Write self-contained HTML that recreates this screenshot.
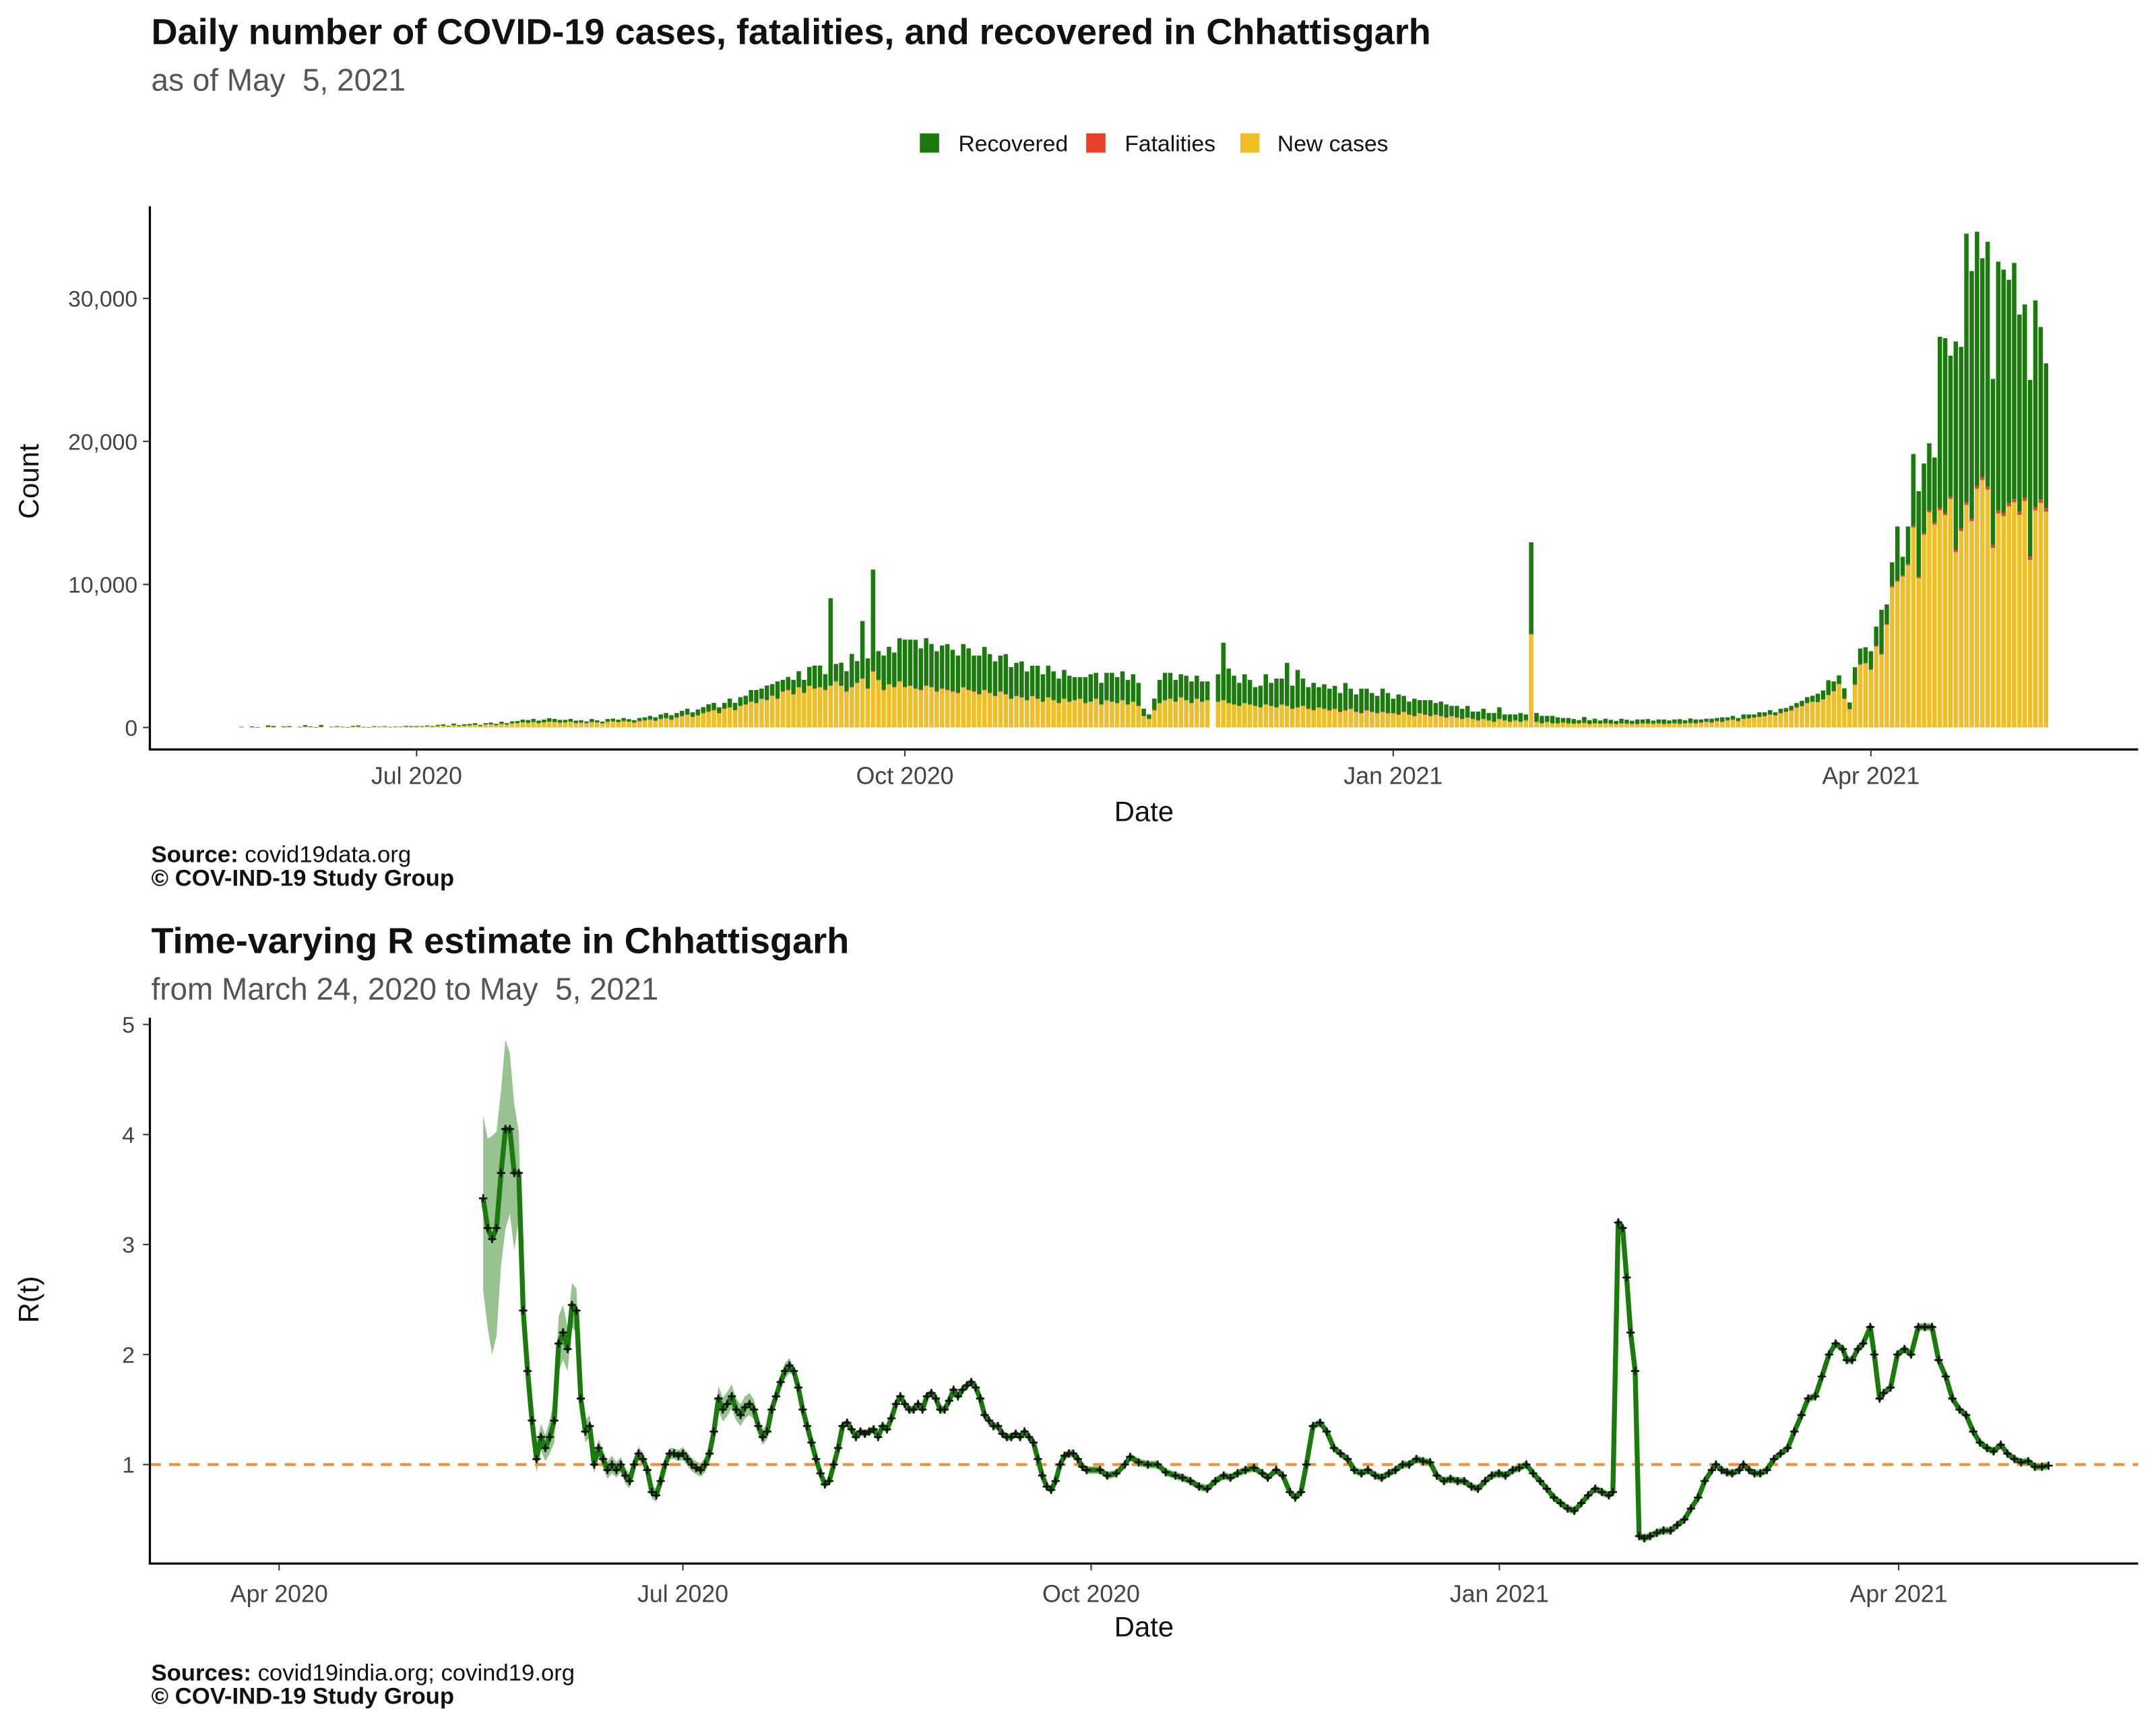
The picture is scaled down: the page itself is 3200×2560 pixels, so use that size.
<!DOCTYPE html>
<html><head><meta charset="utf-8"><style>
html,body{margin:0;padding:0;background:#fff}
svg{display:block;font-family:"Liberation Sans",sans-serif}
</style></head><body>
<svg id="chart" width="3200" height="2560" viewBox="0 0 1568 1254.4" preserveAspectRatio="none" xmlns="http://www.w3.org/2000/svg">
<rect x="0" y="0" width="1568" height="1254.4" fill="#fff"/>
<text x="110" y="32" font-size="26.5" font-weight="bold" fill="#111">Daily number of COVID-19 cases, fatalities, and recovered in Chhattisgarh</text>
<text xml:space="preserve" x="110" y="66" font-size="22.5" fill="#555">as of May  5, 2021</text>
<g font-size="16.5" fill="#111">
<rect x="669" y="97" width="14" height="14" fill="#1A7A0C"/>
<text x="697" y="110">Recovered</text>
<rect x="790" y="97" width="14" height="14" fill="#E8412B"/>
<text x="818" y="110">Fatalities</text>
<rect x="902" y="97" width="14" height="14" fill="#F2BE26"/>
<text x="929" y="110">New cases</text>
</g>
<g id="bars"></g>
<g id="topaxes"></g>
<text transform="translate(28,350) rotate(-90)" text-anchor="middle" font-size="20.5" fill="#111">Count</text>
<text x="832" y="597" text-anchor="middle" font-size="20.5" fill="#111">Date</text>
<text x="110" y="627" font-size="17" fill="#111"><tspan font-weight="bold">Source:</tspan> covid19data.org</text>
<text x="110" y="644" font-size="17" font-weight="bold" fill="#111">© COV-IND-19 Study Group</text>

<text x="110" y="693" font-size="26.5" font-weight="bold" fill="#111">Time-varying R estimate in Chhattisgarh</text>
<text xml:space="preserve" x="110" y="727" font-size="22.5" fill="#555">from March 24, 2020 to May  5, 2021</text>
<g id="rchart"></g>
<text transform="translate(28,945) rotate(-90)" text-anchor="middle" font-size="20.5" fill="#111">R(t)</text>
<text x="832" y="1190" text-anchor="middle" font-size="20.5" fill="#111">Date</text>
<text x="110" y="1222" font-size="17" fill="#111"><tspan font-weight="bold">Sources:</tspan> covid19india.org; covind19.org</text>
<text x="110" y="1239" font-size="17" font-weight="bold" fill="#111">© COV-IND-19 Study Group</text>
</svg>
<script>
// ---- Top chart data (thousands), daily from 2020-05-29 to 2021-05-04 ----
const barStartDay = -33; // days relative to 2020-07-01
const newCases = [
0.03,0,0.02,0.01,0,0.05,0.02,0,0.03,0.04,0,0.02,0.06,0.03,0.01,0.05,0,0.02,0.04,0.03,0.02,0.05,0.06,0.02,0.01,0.04,0.03,0.05,0.02,0.04,0.03,0.05,0.04,
0.05,0.06,0.08,0.05,0.1,0.12,0.08,0.15,0.1,0.12,0.14,0.18,0.1,0.2,0.22,0.15,0.25,0.2,0.28,0.3,0.35,0.32,0.38,0.3,0.35,0.4,0.38,0.33,0.35,0.4,0.3,
0.35,0.3,0.38,0.35,0.3,0.4,0.42,0.38,0.45,0.4,0.35,0.45,0.5,0.55,0.48,0.6,0.65,0.55,0.7,0.8,0.9,0.75,0.85,1.0,1.1,1.2,1.0,1.3,1.4,1.2,1.5,
1.6,1.8,1.7,2.0,1.9,2.2,2.0,2.5,2.6,2.3,2.8,2.4,2.9,2.7,2.8,2.6,2.9,3.2,2.9,2.5,2.8,3.1,3.4,2.7,3.9,3.3,2.6,3.0,2.8,3.2,
2.8,2.9,2.7,2.6,2.9,2.8,2.5,2.7,2.6,2.5,2.4,2.8,2.6,2.5,2.3,2.6,2.4,2.2,2.5,2.3,2.0,2.2,2.1,1.9,2.2,2.0,1.8,2.1,1.9,1.7,2.0,
1.8,1.9,2.0,1.7,1.8,2.0,1.6,1.9,1.8,1.7,1.9,1.6,1.8,1.5,0.8,0.6,1.2,1.7,1.9,2.0,1.8,2.1,1.9,1.7,2.0,1.8,1.9,0,1.8,1.9,
1.7,1.6,1.5,1.7,1.6,1.5,1.4,1.6,1.5,1.4,1.6,1.5,1.3,1.4,1.5,1.3,1.2,1.4,1.3,1.2,1.3,1.1,1.2,1.3,1.1,1.0,1.2,1.1,1.0,1.1,1.0,
1.0,0.9,1.1,0.9,0.8,1.0,0.9,0.8,0.9,0.8,0.7,0.8,0.7,0.6,0.7,0.6,0.5,0.6,0.5,0.4,0.6,0.5,0.4,0.5,0.4,0.5,6.5,0.4,0.3,0.4,0.3,
0.3,0.35,0.3,0.28,0.3,0.32,0.25,0.3,0.28,0.3,0.27,0.25,0.3,0.28,0.26,0.25,0.3,0.28,0.27,0.3,0.25,0.28,0.3,0.27,0.3,0.32,0.3,0.35,
0.4,0.35,0.45,0.4,0.5,0.55,0.45,0.6,0.65,0.7,0.75,0.8,0.9,0.85,1.0,1.1,1.2,1.4,1.5,1.7,1.8,1.77,1.96,2.26,2.52,3.02,2.0,1.27,2.97,4.38,4.48,
4.03,5.66,5.09,7.17,9.8,10.2,10.56,11.34,13.98,10.44,13.48,15.04,14.19,15.2,14.85,15.98,12.26,13.74,15.56,14.43,16.69,17.3,16.64,12.56,14.97,14.78,15.46,15.75,14.87,15.84,
11.72,15.18,15.7,15.09];
const fatalities = [
0,0,0,0,0,0,0,0,0,0,0,0,0,0,0,0,0,0,0,0,0,0,0,0,0,0,0,0,0,0,0,0,0,
0,0,0,0,0,0,0,0,0,0,0,0,0,0,0,0,0,0,0,0,0,0,0,0,0,0,0,0,0,0,0,
0.01,0,0.01,0,0.01,0.01,0,0.01,0.01,0,0.01,0.01,0.01,0.01,0.01,0.01,0.01,0.01,0.01,0.01,0.01,0.01,0.01,0.02,0.02,0.02,0.01,0.02,0.02,0.02,0.02,
0.02,0.02,0.02,0.02,0.03,0.03,0.02,0.03,0.03,0.03,0.03,0.03,0.03,0.03,0.03,0.03,0.04,0.04,0.03,0.03,0.04,0.04,0.04,0.03,0.04,0.04,0.03,0.04,0.04,0.04,
0.04,0.04,0.03,0.03,0.04,0.04,0.03,0.03,0.03,0.03,0.03,0.03,0.03,0.03,0.03,0.03,0.03,0.02,0.03,0.03,0.02,0.02,0.02,0.02,0.02,0.02,0.02,0.02,0.02,0.02,0.02,
0.02,0.02,0.02,0.02,0.02,0.02,0.02,0.02,0.02,0.02,0.02,0.02,0.02,0.02,0.01,0.01,0.02,0.02,0.02,0.02,0.02,0.02,0.02,0.02,0.02,0.02,0.02,0,0.02,0.02,
0.02,0.02,0.02,0.02,0.02,0.02,0.02,0.02,0.02,0.02,0.02,0.02,0.02,0.02,0.02,0.02,0.02,0.02,0.02,0.01,0.01,0.01,0.01,0.01,0.01,0.01,0.01,0.01,0.01,0.01,0.01,
0.01,0.01,0.01,0.01,0.01,0.01,0.01,0.01,0.01,0.01,0.01,0.01,0.01,0.01,0.01,0.01,0.01,0.01,0.01,0.01,0.01,0.01,0.01,0.01,0.01,0.01,0.05,0.01,0.01,0.01,0.01,
0.01,0.01,0.01,0.01,0.01,0.01,0.01,0.01,0.01,0.01,0.01,0.01,0.01,0.01,0.01,0.01,0.01,0.01,0.01,0.01,0.01,0.01,0.01,0.01,0.01,0.01,0.01,0.01,
0.01,0.01,0.01,0.01,0.01,0.01,0.01,0.01,0.01,0.01,0.01,0.01,0.01,0.01,0.01,0.01,0.01,0.01,0.01,0.02,0.02,0.02,0.02,0.02,0.03,0.03,0.03,0.03,0.04,0.04,0.05,
0.05,0.06,0.06,0.07,0.08,0.08,0.09,0.1,0.1,0.1,0.12,0.12,0.13,0.14,0.14,0.15,0.16,0.17,0.17,0.18,0.19,0.2,0.2,0.2,0.2,0.2,0.22,0.22,0.22,0.23,
0.22,0.23,0.24,0.24];
const recovered = [
0.02,0,0.05,0.01,0,0.1,0.08,0,0.05,0.06,0,0.03,0.1,0.04,0.01,0.12,0,0.03,0.05,0.02,0.01,0.06,0.08,0.02,0.01,0.05,0.03,0.04,0.02,0.03,0.02,0.06,0.05,
0.05,0.04,0.06,0.05,0.08,0.1,0.05,0.12,0.06,0.1,0.1,0.12,0.08,0.1,0.12,0.1,0.15,0.1,0.15,0.15,0.2,0.2,0.22,0.18,0.2,0.25,0.22,0.2,0.18,0.2,0.18,
0.15,0.12,0.2,0.15,0.1,0.18,0.2,0.15,0.2,0.18,0.15,0.2,0.2,0.25,0.22,0.3,0.35,0.3,0.3,0.35,0.4,0.3,0.4,0.4,0.5,0.5,0.4,0.4,0.6,0.5,0.6,
0.6,0.8,0.9,0.7,1.0,0.8,1.2,0.8,0.9,1.0,1.1,0.9,1.3,1.6,1.5,1.1,6.1,1.2,1.6,1.4,2.3,1.5,4.0,2.1,7.1,2.0,2.4,2.6,2.4,3.0,
3.3,3.2,3.4,2.9,3.3,3.0,2.8,3.0,3.2,2.9,2.6,3.0,2.9,2.5,2.7,3.0,2.7,2.4,2.5,2.8,2.2,2.3,2.5,2.0,2.1,2.3,1.9,2.2,2.0,1.7,2.0,
1.8,1.6,1.5,1.8,1.9,1.8,1.5,1.9,2.0,1.8,2.0,1.7,1.9,1.6,0.5,0.3,0.8,1.6,1.9,1.8,1.5,1.6,1.7,1.5,1.6,1.4,1.3,0,1.9,4.0,
2.4,2.0,1.6,2.0,1.7,1.3,1.5,2.1,1.6,2.0,1.8,3.0,1.6,2.6,1.9,1.5,1.9,1.4,1.7,1.5,1.6,1.3,1.9,1.4,1.2,1.7,1.5,1.3,1.2,1.6,1.4,
1.0,1.4,1.1,0.9,1.2,0.9,1.0,1.1,0.8,1.0,0.9,0.7,0.8,0.7,0.8,0.5,0.6,0.7,0.5,0.6,0.8,0.4,0.5,0.4,0.6,0.4,6.4,0.6,0.5,0.4,0.5,
0.4,0.3,0.35,0.3,0.2,0.4,0.25,0.3,0.2,0.3,0.25,0.2,0.3,0.25,0.2,0.3,0.25,0.3,0.2,0.25,0.3,0.2,0.25,0.3,0.2,0.3,0.25,0.2,
0.2,0.25,0.2,0.3,0.2,0.25,0.2,0.3,0.25,0.2,0.3,0.25,0.3,0.2,0.3,0.25,0.3,0.3,0.35,0.4,0.4,0.57,0.61,1.02,0.67,0.59,0.71,0.45,1.2,1.1,1.08,
1.25,1.33,3.08,1.36,1.67,3.77,1.28,2.61,5.04,5.98,4.86,4.71,4.56,11.98,12.23,9.87,14.57,12.7,18.8,17.3,17.79,15.31,17.12,11.61,17.4,17.03,15.62,16.51,13.78,13.51,
12.36,14.45,12.06,10.13];
const countTicks = [0, 10000, 20000, 30000];
const countTickLabels = ["0", "10,000", "20,000", "30,000"];
const topDateTicks = [0, 92, 184, 274]; // days from 2020-07-01
const topDateLabels = ["Jul 2020", "Oct 2020", "Jan 2021", "Apr 2021"];

// ---- Bottom chart data ----
const rDailyStartDay = 46; // 2020-05-17, days from 2020-04-01
const rDailyVals = [
3.42,3.15,3.05,3.15,3.65,4.05,4.05,3.65,3.65,2.4,1.85,1.4,1.05,1.25,1.15,
1.25,1.4,2.1,2.2,2.05,2.45,2.4,1.6,1.3,1.35,1.0,1.15,1.05,0.95,1.0,0.95,1.0,0.9,0.85,1.0,1.1,1.05,0.95,0.75,0.72,0.85,1.0,1.1,1.1,1.08,
1.1,1.05,1.0,0.97,0.95,1.0,1.1,1.3,1.6,1.5,1.55,1.62,1.5,1.45,1.52,1.55,1.5,1.35,1.25,1.3,1.5,1.62,1.75,1.85,1.9,1.85,1.7,1.5,1.35,1.2,1.05,
0.92,0.82,0.85,1.0,1.15,1.35,1.38,1.32,1.25,1.3,1.28,1.3,1.32,1.25,1.35,1.32,1.42,1.55,1.62,1.55,1.5,1.5,1.55,1.5,1.62,1.65,1.6,1.5,1.5,1.58,1.68,
1.62,1.68,1.72,1.75,1.7,1.6,1.45,1.4,1.35,1.35,1.28,1.25,1.25,1.28,1.25,1.3,1.25,1.2,1.05,0.9,0.8,0.77,0.85,1.0,1.08,1.1,1.1,1.05,0.98,0.95];
const rDailyHalfWidth = [0.6,0.65,0.75,0.7,0.6,0.65,0.55,0.5,0.3,0.2,0.15,0.12,0.12,0.12,0.12,
0.15,0.2,0.25,0.25,0.2,0.2,0.2,0.12,0.1,0.1,0.08,0.08,0.08,0.08,0.08,0.07,0.07,0.07,0.07,0.06,0.06,0.06,0.06,0.06,0.06,0.06,0.05,0.05,0.05,0.05,
0.06,0.06,0.06,0.06,0.06,0.07,0.08,0.09,0.11,0.11,0.11,0.11,0.1,0.1,0.1,0.1,0.09,0.08,0.07,0.07,0.07,0.07,0.07,0.07,0.07];
const rLateDays = [185,186.6,188.7,190.6,191.8,193.7,195.8,198,199.8,202,203.6,205.4,207.3,209.2,211,212.9,214.4,216,217.8,219.7,221.6,222.8,224.7,226.2,227.8,229,230.3,231.5,233,234.6,236.1,237.7,239.2,240.8,242.3,243.9,245.4,247,248.5,250.1,251.6,253.2,254.7,256.3,257.8,259.4,260.9,262.5,264,265.6,267.1,268.7,270.2,271.8,273.3,274.9,276.4,278,279.5,281.1,282.6,284.2,285.7,287.3,288.8,290.4,291.9,293.5,295,296.6,298.1,299.7,300.6,301.8,302.8,303.7,304.6,305.6,306.5,307.7,309,310.5,312,313.6,315.1,316.7,318.2,319.8,321.3,322.9,323.8,325.1,326.3,327.5,329.1,330,331.3,332.5,333.8,335.3,336.9,338.4,340,341.5,343.1,344.6,346.2,347.7,349.3,350.8,352.4,353.3,354.5,355.8,357,358.6,359.5,360.7,361.6,363.2,364.7,366.3,367.8,369.4,370.9,372.5,374,375.6,377.1,378.7,380.2,381.8,383.3,384.9,386.4,388,389.5,391.1,392.6,394.2,395.7,397.3,398.8];
const rLateVals = [0.95,0.9,0.92,1.0,1.07,1.02,1.0,1.0,0.93,0.9,0.88,0.85,0.8,0.78,0.85,0.9,0.88,0.92,0.95,0.97,0.92,0.88,0.95,0.9,0.75,0.7,0.75,1.0,1.35,1.38,1.3,1.15,1.1,1.05,0.95,0.92,0.95,0.9,0.88,0.92,0.95,1.0,1.0,1.05,1.03,1.02,0.9,0.85,0.87,0.85,0.85,0.8,0.78,0.85,0.9,0.92,0.9,0.95,0.97,1.0,0.92,0.85,0.78,0.7,0.65,0.6,0.58,0.65,0.72,0.78,0.75,0.72,0.75,3.2,3.15,2.7,2.2,1.85,0.35,0.33,0.35,0.38,0.4,0.4,0.45,0.5,0.6,0.7,0.85,0.95,1.0,0.95,0.93,0.92,0.95,1.0,0.95,0.92,0.92,0.95,1.05,1.1,1.15,1.3,1.45,1.6,1.62,1.8,2.0,2.1,2.05,1.95,1.95,2.05,2.1,2.25,2.0,1.6,1.65,1.7,2.0,2.05,2.0,2.25,2.25,2.25,1.95,1.8,1.6,1.5,1.45,1.3,1.2,1.15,1.12,1.18,1.1,1.05,1.02,1.03,0.98,0.98,0.99];
const rTicks = [1, 2, 3, 4, 5];
const rDateTicks = [0, 91, 183, 275, 365]; // days from 2020-04-01
const rDateLabels = ["Apr 2020", "Jul 2020", "Oct 2020", "Jan 2021", "Apr 2021"];
const threshold = 1;

const NS = "http://www.w3.org/2000/svg";
function mk(tag, attrs, parent) {
  const e = document.createElementNS(NS, tag);
  for (const k in attrs) e.setAttribute(k, attrs[k]);
  parent.appendChild(e);
  return e;
}

// ---- Top chart ----
const xTop = d => 303 + d * 3.86;
const yTop = v => 529 - v * 0.0104;
const bars = document.getElementById("bars");
for (let i = 0; i < newCases.length; i++) {
  const cx = xTop(barStartDay + i);
  const n = newCases[i] * 1000, f = fatalities[i] * 1000, r = recovered[i] * 1000;
  const segs = [[0, n, "#F0BE26", "bar-new-cases"], [n, n + f, "#E8412B", "bar-fatalities"], [n + f, n + f + r, "#1A7A0C", "bar-recovered"]];
  for (const s of segs) {
    if (s[1] - s[0] <= 0) continue;
    const y1 = yTop(s[1]), y0 = yTop(s[0]);
    const rc = mk("rect", {x: cx - 1.6, y: y1, width: 3.2, height: Math.max(0.3, y0 - y1), fill: s[2]}, bars);
    
    
  }
}
const ta = document.getElementById("topaxes");
let ln = mk("line", {x1: 109, y1: 150, x2: 109, y2: 545, stroke: "#000", "stroke-width": 1.6}, ta);


ln = mk("line", {x1: 108.2, y1: 545, x2: 1555, y2: 545, stroke: "#000", "stroke-width": 1.6}, ta);


countTicks.forEach((t, i) => {
  const y = yTop(t);
  const tk = mk("line", {x1: 104, y1: y, x2: 109, y2: y, stroke: "#333", "stroke-width": 1}, ta);
  
  
  const tx = mk("text", {x: 100, y: y + 6, "text-anchor": "end", "font-size": 16.5, fill: "#444"}, ta);
  tx.textContent = countTickLabels[i];
  
  
});
topDateTicks.forEach((d, i) => {
  const x = xTop(d);
  const tk = mk("line", {x1: x, y1: 545, x2: x, y2: 550, stroke: "#333", "stroke-width": 1}, ta);
  
  
  const tx = mk("text", {x: x, y: 570, "text-anchor": "middle", "font-size": 17.5, fill: "#444"}, ta);
  tx.textContent = topDateLabels[i];
  
  
});

// ---- Bottom chart ----
const xR = d => 203 + d * 3.227;
const yR = v => 1145 - v * 80;
const rc = document.getElementById("rchart");
const rDays = [], rVals = [], rHW = [];
rDailyVals.forEach((v, i) => { rDays.push(rDailyStartDay + i); rVals.push(v); rHW.push(rDailyHalfWidth[i] !== undefined ? rDailyHalfWidth[i] : 0.035); });
rLateVals.forEach((v, i) => { rDays.push(rLateDays[i]); rVals.push(v); rHW.push(0.035); });

let up = "", lo = "";
for (let i = 0; i < rVals.length; i++) {
  const hwU = rHW[i] * (rVals[i] > 2.5 ? 1.25 : 1);
  up += (i ? "L" : "M") + xR(rDays[i]).toFixed(1) + "," + yR(rVals[i] + hwU).toFixed(1);
}
for (let i = rVals.length - 1; i >= 0; i--) {
  lo += "L" + xR(rDays[i]).toFixed(1) + "," + yR(rVals[i] - rHW[i] * (rVals[i] > 2.5 ? 1.4 : 1)).toFixed(1);
}
const band = mk("path", {d: up + lo + "Z", fill: "#1A7A0C", "fill-opacity": 0.45}, rc);



const thr = mk("line", {x1: 109, y1: yR(threshold), x2: 1555, y2: yR(threshold), stroke: "#FF8C28", "stroke-width": 2, "stroke-dasharray": "8,6"}, rc);



let dl = "";
for (let i = 0; i < rVals.length; i++) dl += (i ? "L" : "M") + xR(rDays[i]).toFixed(1) + "," + yR(rVals[i]).toFixed(1);
const rline = mk("path", {d: dl, fill: "none", stroke: "#1A7A0C", "stroke-width": 3.6, "stroke-linejoin": "round"}, rc);



const mg = mk("g", {stroke: "#111", "stroke-width": 1.3}, rc);


for (let i = 0; i < rVals.length; i++) {
  const x = xR(rDays[i]), y = yR(rVals[i]);
  const p = mk("path", {d: `M${(x-3).toFixed(1)},${y.toFixed(1)}H${(x+3).toFixed(1)}M${x.toFixed(1)},${(y-3).toFixed(1)}V${(y+3).toFixed(1)}`}, mg);
  
  
}

ln = mk("line", {x1: 109, y1: 740, x2: 109, y2: 1137, stroke: "#000", "stroke-width": 1.6}, rc);


ln = mk("line", {x1: 108.2, y1: 1137, x2: 1555, y2: 1137, stroke: "#000", "stroke-width": 1.6}, rc);


rTicks.forEach(t => {
  const y = yR(t);
  const tk = mk("line", {x1: 104, y1: y, x2: 109, y2: y, stroke: "#333", "stroke-width": 1}, rc);
  
  
  const tx = mk("text", {x: 98, y: y + 6, "text-anchor": "end", "font-size": 16.5, fill: "#444"}, rc);
  tx.textContent = String(t);
  
  
});
rDateTicks.forEach((d, i) => {
  const x = xR(d);
  const tk = mk("line", {x1: x, y1: 1137, x2: x, y2: 1142, stroke: "#333", "stroke-width": 1}, rc);
  
  
  const tx = mk("text", {x: x, y: 1165, "text-anchor": "middle", "font-size": 17.5, fill: "#444"}, rc);
  tx.textContent = rDateLabels[i];
  
  
});
</script>
</body></html>
